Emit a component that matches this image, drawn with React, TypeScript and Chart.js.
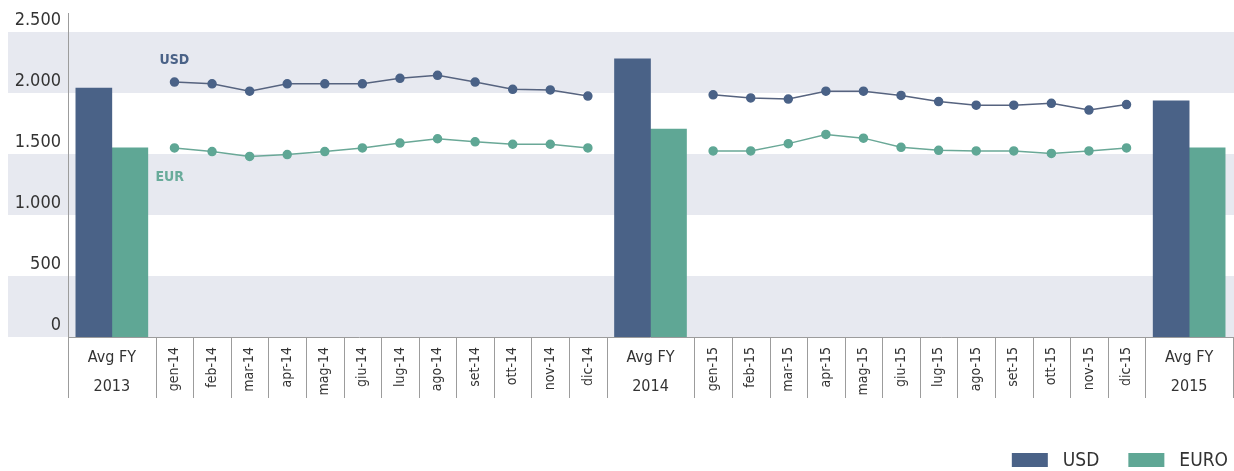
import React, { useEffect, useRef } from 'react';
import { Chart, registerables } from 'chart.js';

Chart.register(...registerables);

const FONT = "'DejaVu Sans Condensed', 'DejaVu Sans', 'Liberation Sans Narrow', sans-serif";

// ---- data ----
const avgLabels: string[][] = [['Avg FY', '2013'], ['Avg FY', '2014'], ['Avg FY', '2015']];
const avgUsd = [2040, 2280, 1935];
const avgEur = [1550, 1705, 1550];

const months14 = ['gen-14', 'feb-14', 'mar-14', 'apr-14', 'mag-14', 'giu-14', 'lug-14', 'ago-14', 'set-14', 'ott-14', 'nov-14', 'dic-14'];
const usd14 = [2090, 2075, 2015, 2075, 2075, 2075, 2120, 2145, 2090, 2030, 2025, 1975];
const eur14 = [1550, 1520, 1480, 1495, 1520, 1550, 1590, 1625, 1600, 1580, 1580, 1550];

const months15 = ['gen-15', 'feb-15', 'mar-15', 'apr-15', 'mag-15', 'giu-15', 'lug-15', 'ago-15', 'set-15', 'ott-15', 'nov-15', 'dic-15'];
const usd15 = [1985, 1960, 1950, 2015, 2015, 1980, 1930, 1900, 1900, 1915, 1860, 1905];
const eur15 = [1525, 1525, 1585, 1660, 1630, 1555, 1530, 1525, 1525, 1505, 1525, 1550];

const yTicks = [0, 500, 1000, 1500, 2000, 2500];
const seriesNames = ['USD', 'EURO'];
const lineTags = ['USD', 'EUR'];

// ---- layout helpers ----
const COLOR_USD = '#4a6287';
const COLOR_EUR = '#5fa795';
const TEXT = '#333333';
const AXIS = '#9c9c9c';
const BAND = '#e7e9f0';
const AVG_UNITS = 7 / 3;
const MONTH_UNITS = 1;

type Cat = { lines: string[]; rotated: boolean; start: number; end: number; center: number };

function buildCategories(): Cat[] {
  const seq = [
    { lines: avgLabels[0], rotated: false },
    ...months14.map((m) => ({ lines: [m], rotated: true })),
    { lines: avgLabels[1], rotated: false },
    ...months15.map((m) => ({ lines: [m], rotated: true })),
    { lines: avgLabels[2], rotated: false },
  ];
  let pos = 0;
  return seq.map((s) => {
    const w = s.rotated ? MONTH_UNITS : AVG_UNITS;
    const c = { ...s, start: pos, end: pos + w, center: pos + w / 2 };
    pos += w;
    return c;
  });
}

const cats = buildCategories();
const totalUnits = cats[cats.length - 1].end;
const avgCenters = cats.filter((c) => !c.rotated).map((c) => c.center);
const m14Centers = cats.slice(1, 13).map((c) => c.center);
const m15Centers = cats.slice(14, 26).map((c) => c.center);

const fmt = (v: number) => String(v).replace(/\B(?=(\d{3})+(?!\d))/g, '.');

function linePoints(a: number[], b: number[]) {
  return [
    ...a.map((v, i) => ({ x: m14Centers[i], y: v })),
    { x: avgCenters[1], y: null },
    ...b.map((v, i) => ({ x: m15Centers[i], y: v })),
  ];
}

const decorPlugin = {
  id: 'decor',
  beforeDraw(chart: any) {
    const { ctx, scales } = chart;
    const y = scales.y;
    ctx.save();
    ctx.fillStyle = BAND;
    for (let i = 0; i + 1 < yTicks.length; i += 2) {
      const top = y.getPixelForValue(yTicks[i + 1]);
      const bot = y.getPixelForValue(yTicks[i]);
      ctx.fillRect(8, top, chart.width - 8, bot - top);
    }
    ctx.restore();
  },
  beforeDatasetsDraw(chart: any) {
    const { ctx, chartArea } = chart;
    ctx.save();
    ctx.strokeStyle = AXIS;
    ctx.lineWidth = 1;
    const left = Math.round(chartArea.left) + 0.5;
    const bottom = Math.round(chartArea.bottom) + 0.5;
    ctx.beginPath();
    ctx.moveTo(left, chartArea.top - 19);
    ctx.lineTo(left, bottom);
    ctx.moveTo(left, bottom);
    ctx.lineTo(chartArea.right, bottom);
    ctx.stroke();
    ctx.restore();
  },
  afterDraw(chart: any) {
    const { ctx, chartArea, scales } = chart;
    const x = scales.x;
    const bottom = chartArea.bottom;
    ctx.save();
    // separators
    ctx.strokeStyle = AXIS;
    ctx.lineWidth = 1;
    ctx.beginPath();
    const bounds = [cats[0].start, ...cats.map((c) => c.end)];
    bounds.forEach((b) => {
      const px = Math.round(x.getPixelForValue(b)) + 0.5;
      ctx.moveTo(px, bottom);
      ctx.lineTo(px, bottom + 61);
    });
    ctx.stroke();
    // category labels
    ctx.fillStyle = TEXT;
    cats.forEach((c) => {
      const cx = x.getPixelForValue(c.center);
      if (c.rotated) {
        ctx.save();
        ctx.font = `14px ${FONT}`;
        ctx.translate(cx, bottom + 10);
        ctx.rotate(-Math.PI / 2);
        ctx.textAlign = 'right';
        ctx.textBaseline = 'middle';
        ctx.fillText(c.lines[0], 0, 0);
        ctx.restore();
      } else {
        ctx.font = `16px ${FONT}`;
        ctx.textAlign = 'center';
        ctx.textBaseline = 'middle';
        ctx.fillText(c.lines[0], cx, bottom + 21);
        ctx.fillText(c.lines[1], cx, bottom + 50);
      }
    });
    // series tags next to the lines
    const usdPt = chart.getDatasetMeta(2).data[0];
    const eurPt = chart.getDatasetMeta(3).data[0];
    ctx.font = `bold 14px ${FONT}`;
    ctx.textAlign = 'left';
    ctx.textBaseline = 'middle';
    if (usdPt) {
      ctx.fillStyle = COLOR_USD;
      ctx.fillText(lineTags[0], usdPt.x - 15, usdPt.y - 22);
    }
    if (eurPt) {
      ctx.fillStyle = '#68ab9a';
      ctx.fillText(lineTags[1], eurPt.x - 19, eurPt.y + 29);
    }
    // legend (bar series), bottom right
    const items = chart.data.datasets.filter((d: any) => d.type === 'bar');
    ctx.font = `19px ${FONT}`;
    ctx.textBaseline = 'middle';
    const sw = 36, sh = 14, gapText = 15, gapItem = 29;
    const widths = items.map((d: any) => sw + gapText + ctx.measureText(d.label).width);
    const total = widths.reduce((a: number, b: number) => a + b, 0) + gapItem * (items.length - 1);
    let lx = chart.width - 6 - total;
    const ly = chart.height - 11;
    items.forEach((d: any, i: number) => {
      ctx.fillStyle = d.backgroundColor;
      ctx.fillRect(lx, ly - sh / 2, sw, sh);
      ctx.fillStyle = TEXT;
      ctx.fillText(d.label, lx + sw + gapText, ly + 1);
      lx += widths[i] + gapItem;
    });
    ctx.restore();
  },
};

export default function App() {
  const ref = useRef<HTMLCanvasElement | null>(null);

  useEffect(() => {
    if (!ref.current) return;
    const chart = new Chart(ref.current, {
      type: 'bar',
      data: {
        datasets: [
          {
            type: 'bar',
            label: seriesNames[0],
            data: avgUsd.map((v, i) => ({ x: avgCenters[i], y: v })),
            backgroundColor: COLOR_USD,
            barThickness: 36,
            borderWidth: 0,
          },
          {
            type: 'bar',
            label: seriesNames[1],
            data: avgEur.map((v, i) => ({ x: avgCenters[i], y: v })),
            backgroundColor: COLOR_EUR,
            barThickness: 36,
            borderWidth: 0,
          },
          {
            type: 'line',
            label: lineTags[0],
            data: linePoints(usd14, usd15) as any,
            borderColor: '#56637f',
            backgroundColor: COLOR_USD,
            pointBackgroundColor: COLOR_USD,
            pointBorderColor: COLOR_USD,
            borderWidth: 1.5,
            pointRadius: 4,
            spanGaps: false,
            tension: 0,
          },
          {
            type: 'line',
            label: lineTags[1],
            data: linePoints(eur14, eur15) as any,
            borderColor: '#6aa897',
            backgroundColor: COLOR_EUR,
            pointBackgroundColor: COLOR_EUR,
            pointBorderColor: COLOR_EUR,
            borderWidth: 1.5,
            pointRadius: 4,
            spanGaps: false,
            tension: 0,
          },
        ],
      } as any,
      options: {
        animation: false,
        responsive: false,
        layout: { autoPadding: false, padding: { top: 32, right: 1, left: 0, bottom: 0 } },
        scales: {
          x: {
            type: 'linear',
            min: 0,
            max: totalUnits,
            offset: false,
            display: true,
            grid: { display: false, drawTicks: false },
            border: { display: false },
            ticks: { display: false },
            afterFit: (s: any) => {
              s.height = 134;
            },
          },
          y: {
            type: 'linear',
            min: 0,
            max: 2500,
            grid: { display: false, drawTicks: false },
            border: { display: false },
            afterBuildTicks: (s: any) => {
              s.ticks = yTicks.map((v) => ({ value: v }));
            },
            afterFit: (s: any) => {
              s.width = 68;
            },
            ticks: {
              callback: (v: any) => fmt(Number(v)),
              font: { size: 18, family: FONT },
              color: TEXT,
              padding: 7,
              labelOffset: -12,
            },
          },
        },
        plugins: {
          legend: { display: false },
          tooltip: { enabled: false },
        },
      } as any,
      plugins: [decorPlugin],
    });
    return () => chart.destroy();
  }, []);

  return (
    <div style={{ position: 'fixed', left: 0, top: 0, width: 1234, height: 471, background: '#fff' }}>
      <canvas ref={ref} width={1234} height={471} style={{ display: 'block' }} />
    </div>
  );
}
